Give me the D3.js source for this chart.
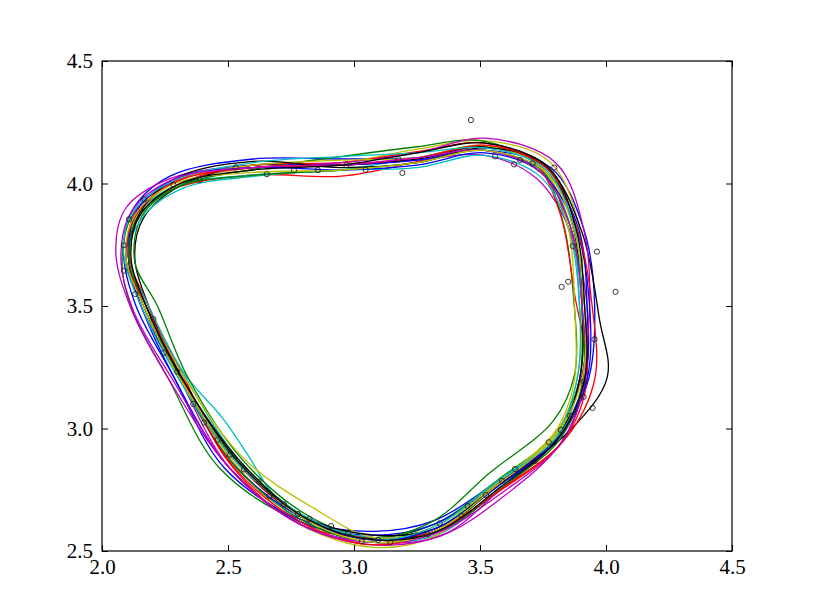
<!DOCTYPE html>
<html>
<head>
<meta charset="utf-8">
<script src="https://cdn.jsdelivr.net/npm/d3@7"></script>
<style>
  body { margin: 0; background: #fff; }
  svg { display: block; }
</style>
</head>
<body>
<div id="chart"></div>
<script>
// tick labels
const xTicks = [2.0, 2.5, 3.0, 3.5, 4.0, 4.5];
const yTicks = [2.5, 3.0, 3.5, 4.0, 4.5];

// observed points (open circles)
const pointX = [2.168, 2.283, 2.388, 2.531, 2.654, 2.762, 2.857, 2.969, 3.046, 3.176, 3.192, 3.464, 3.560, 3.635, 3.659, 3.709, 3.795,
  3.868, 3.964, 3.850, 3.824, 4.038, 3.954, 3.911, 3.911, 3.947, 3.857, 3.821, 3.773, 3.718, 3.639, 3.587, 3.524, 3.451, 3.426,
  3.340, 3.291, 3.238, 3.144, 3.096, 3.031, 2.977, 2.909, 2.823, 2.778, 2.722, 2.664, 2.622, 2.563, 2.508, 2.459, 2.405, 2.362,
  2.299, 2.246, 2.204, 2.132, 2.087, 2.087, 2.107];
const pointY = [3.936, 3.995, 4.014, 4.066, 4.038, 4.054, 4.055, 4.074, 4.056, 4.099, 4.043, 4.259, 4.111, 4.078, 4.096, 4.082, 4.065,
  3.745, 3.722, 3.599, 3.578, 3.558, 3.364, 3.191, 3.129, 3.084, 3.052, 2.994, 2.944, 2.867, 2.835, 2.786, 2.729, 2.684, 2.644,
  2.613, 2.568, 2.569, 2.536, 2.545, 2.540, 2.575, 2.602, 2.631, 2.651, 2.691, 2.724, 2.783, 2.833, 2.893, 2.954, 3.024, 3.100,
  3.232, 3.309, 3.446, 3.549, 3.644, 3.748, 3.854];

// fitted closed curves, control points
const curves = [
  [[2.085,3.72],[2.12,3.89],[2.27,4.03],[2.60,4.10],[2.95,4.10],[3.25,4.105],[3.52,4.135],[3.78,4.065],[3.91,3.82],[3.955,3.50],[3.925,3.18],[3.80,2.95],[3.55,2.77],[3.32,2.625],[3.08,2.58],[2.785,2.63],[2.485,2.84],[2.28,3.22],[2.135,3.50]],
  [[2.08,3.66],[2.12,3.87],[2.29,4.01],[2.60,4.065],[2.95,4.075],[3.25,4.105],[3.52,4.155],[3.762,4.065],[3.87,3.82],[3.905,3.50],[3.895,3.20],[3.80,2.98],[3.57,2.79],[3.32,2.61],[3.08,2.555],[2.785,2.62],[2.465,2.84],[2.26,3.21],[2.125,3.47]],
  [[2.105,3.70],[2.13,3.87],[2.29,3.98],[2.60,4.035],[2.95,4.03],[3.25,4.089],[3.52,4.15],[3.745,4.065],[3.85,3.82],[3.915,3.50],[3.915,3.18],[3.82,2.97],[3.57,2.77],[3.32,2.59],[3.08,2.545],[2.805,2.63],[2.535,2.86],[2.30,3.22],[2.185,3.50]],
  [[2.105,3.70],[2.14,3.87],[2.29,3.99],[2.60,4.035],[2.95,4.055],[3.25,4.105],[3.52,4.135],[3.752,4.045],[3.86,3.82],[3.895,3.50],[3.895,3.20],[3.80,2.96],[3.58,2.76],[3.34,2.57],[3.08,2.535],[2.80,2.60],[2.665,2.75],[2.58,2.89],[2.48,3.04],[2.33,3.22],[2.175,3.50]],
  [[2.055,3.72],[2.095,3.90],[2.27,4.02],[2.60,4.075],[2.95,4.075],[3.25,4.095],[3.52,4.115],[3.725,4.02],[3.86,3.80],[3.925,3.50],[3.915,3.18],[3.82,2.94],[3.59,2.72],[3.34,2.56],[3.08,2.535],[2.785,2.61],[2.505,2.84],[2.26,3.21],[2.115,3.49]],
  [[2.105,3.70],[2.15,3.87],[2.31,4.00],[2.60,4.065],[2.95,4.085],[3.25,4.14],[3.52,4.175],[3.775,4.09],[3.89,3.84],[3.905,3.50],[3.885,3.20],[3.80,2.98],[3.56,2.77],[3.33,2.565],[3.08,2.515],[2.785,2.61],[2.525,2.86],[2.30,3.22],[2.165,3.50]],
  [[2.13,3.70],[2.165,3.86],[2.31,3.99],[2.60,4.075],[2.95,4.075],[3.25,4.10],[3.52,4.15],[3.77,4.06],[3.905,3.80],[3.975,3.44],[4.005,3.21],[3.86,2.995],[3.57,2.765],[3.32,2.58],[3.08,2.55],[2.81,2.63],[2.54,2.86],[2.31,3.22],[2.185,3.50]],
  [[2.095,3.70],[2.14,3.88],[2.30,4.01],[2.60,4.075],[2.95,4.075],[3.25,4.095],[3.52,4.135],[3.762,4.045],[3.89,3.82],[3.925,3.50],[3.915,3.20],[3.81,2.97],[3.56,2.77],[3.32,2.61],[3.08,2.565],[2.785,2.62],[2.505,2.84],[2.28,3.22],[2.155,3.50]],
  [[2.13,3.68],[2.16,3.87],[2.31,3.99],[2.61,4.06],[2.95,4.11],[3.25,4.15],[3.50,4.175],[3.735,4.07],[3.83,3.84],[3.87,3.55],[3.875,3.22],[3.79,3.03],[3.54,2.82],[3.31,2.62],[3.08,2.555],[2.825,2.64],[2.555,2.875],[2.34,3.21],[2.22,3.50]],
  [[2.11,3.70],[2.15,3.87],[2.31,4.00],[2.60,4.075],[2.95,4.085],[3.25,4.13],[3.52,4.165],[3.72,4.08],[3.82,3.87],[3.875,3.55],[3.925,3.20],[3.83,2.95],[3.585,2.75],[3.32,2.58],[3.08,2.555],[2.785,2.61],[2.505,2.86],[2.32,3.22],[2.185,3.50]],
  [[2.105,3.70],[2.155,3.855],[2.32,3.98],[2.61,4.03],[2.95,4.055],[3.25,4.065],[3.52,4.115],[3.742,4.025],[3.85,3.82],[3.895,3.50],[3.885,3.20],[3.80,2.97],[3.57,2.78],[3.32,2.59],[3.08,2.555],[2.805,2.64],[2.545,2.87],[2.32,3.23],[2.175,3.52]],
  [[2.105,3.70],[2.13,3.88],[2.29,4.01],[2.60,4.065],[2.95,4.085],[3.25,4.125],[3.52,4.185],[3.80,4.085],[3.91,3.82],[3.935,3.50],[3.895,3.18],[3.80,2.95],[3.58,2.75],[3.36,2.57],[3.08,2.525],[2.785,2.61],[2.505,2.84],[2.30,3.22],[2.155,3.50]],
  [[2.105,3.70],[2.14,3.87],[2.30,4.01],[2.60,4.075],[2.95,4.095],[3.25,4.105],[3.52,4.155],[3.752,4.055],[3.85,3.82],[3.875,3.50],[3.875,3.20],[3.80,2.99],[3.57,2.78],[3.32,2.60],[3.08,2.555],[2.84,2.675],[2.56,2.88],[2.32,3.22],[2.175,3.50]],
  [[2.105,3.70],[2.15,3.88],[2.29,4.02],[2.60,4.09],[2.95,4.065],[3.25,4.085],[3.52,4.145],[3.762,4.075],[3.87,3.82],[3.905,3.50],[3.895,3.20],[3.80,2.95],[3.56,2.76],[3.32,2.59],[3.08,2.565],[2.805,2.64],[2.545,2.87],[2.30,3.23],[2.165,3.50]],
  [[2.105,3.71],[2.14,3.89],[2.29,4.02],[2.60,4.065],[2.95,4.055],[3.25,4.075],[3.52,4.125],[3.742,4.045],[3.88,3.82],[3.935,3.50],[3.925,3.20],[3.82,2.97],[3.58,2.77],[3.32,2.59],[3.08,2.545],[2.805,2.63],[2.525,2.85],[2.30,3.22],[2.155,3.50]],
  [[2.105,3.70],[2.15,3.87],[2.31,3.99],[2.62,4.035],[2.95,4.055],[3.25,4.085],[3.52,4.135],[3.742,4.045],[3.86,3.82],[3.905,3.50],[3.905,3.18],[3.82,2.96],[3.59,2.76],[3.34,2.58],[3.08,2.535],[2.805,2.62],[2.525,2.85],[2.30,3.22],[2.175,3.50]],
  [[2.095,3.70],[2.14,3.88],[2.30,4.01],[2.60,4.065],[2.95,4.075],[3.25,4.105],[3.54,4.155],[3.772,4.055],[3.89,3.80],[3.945,3.50],[3.955,3.20],[3.84,2.96],[3.58,2.75],[3.32,2.58],[3.08,2.525],[2.805,2.61],[2.525,2.84],[2.31,3.22],[2.175,3.50]],
  [[2.085,3.72],[2.12,3.88],[2.28,4.01],[2.60,4.085],[2.95,4.11],[3.25,4.125],[3.52,4.145],[3.752,4.065],[3.87,3.84],[3.905,3.50],[3.915,3.20],[3.81,2.97],[3.56,2.78],[3.32,2.60],[3.08,2.545],[2.825,2.63],[2.545,2.85],[2.30,3.21],[2.155,3.50]],
  [[2.075,3.70],[2.12,3.89],[2.29,4.02],[2.60,4.065],[2.95,4.075],[3.25,4.105],[3.52,4.135],[3.742,4.045],[3.86,3.82],[3.905,3.50],[3.915,3.20],[3.83,2.95],[3.59,2.74],[3.32,2.57],[3.08,2.535],[2.785,2.61],[2.505,2.84],[2.28,3.20],[2.125,3.48]],
  [[2.095,3.70],[2.13,3.87],[2.29,4.00],[2.60,4.045],[2.95,4.055],[3.25,4.085],[3.52,4.135],[3.762,4.045],[3.87,3.82],[3.915,3.50],[3.905,3.20],[3.80,2.97],[3.57,2.77],[3.32,2.58],[3.08,2.535],[2.805,2.63],[2.545,2.86],[2.30,3.22],[2.165,3.50]],
  [[2.115,3.70],[2.15,3.87],[2.31,4.00],[2.60,4.055],[2.95,4.075],[3.25,4.125],[3.52,4.165],[3.772,4.065],[3.88,3.82],[3.915,3.50],[3.915,3.20],[3.81,2.96],[3.58,2.76],[3.33,2.58],[3.08,2.545],[2.815,2.63],[2.545,2.86],[2.31,3.22],[2.175,3.50]]
];

// matplotlib classic colour cycle b, g, r, c, m, y, k
const cycle = ["#0000ff", "#008000", "#ff0000", "#00bfbf", "#bf00bf", "#bfbf00", "#000000"];

const width = 813;
const height = 613;
const margin = { top: 61, right: 81, bottom: 62, left: 102 };
const w = width - margin.left - margin.right;
const h = height - margin.top - margin.bottom;

const svg = d3.select("#chart")
    .append("svg")
    .attr("width", width)
    .attr("height", height);

const g = svg.append("g")
    .attr("transform", `translate(${margin.left},${margin.top})`);

const x = d3.scaleLinear().domain([2.0, 4.5]).range([0, w]);
const y = d3.scaleLinear().domain([2.5, 4.5]).range([h, 0]);

const plot = g.append("g");

const line = d3.line()
    .x(d => x(d[0]))
    .y(d => y(d[1]))
    .curve(d3.curveCatmullRomClosed.alpha(0.5));

plot.selectAll(".fit")
    .data(curves)
    .enter()
    .append("path")
    .attr("class", "fit")
    .attr("d", line)
    .attr("fill", "none")
    .attr("stroke", (d, i) => cycle[i % cycle.length])
    .attr("stroke-width", 1.3);

plot.selectAll(".pt")
    .data(pointX.map((v, i) => [v, pointY[i]]))
    .enter()
    .append("circle")
    .attr("class", "pt")
    .attr("cx", d => x(d[0]))
    .attr("cy", d => y(d[1]))
    .attr("r", 2.6)
    .attr("fill", "none")
    .attr("stroke", "#222")
    .attr("stroke-width", 0.9);

// axes with inward ticks on all four sides
const fmt = d3.format(".1f");
const tickLen = 6;

const xb = g.append("g")
    .attr("transform", `translate(0,${h})`)
    .call(d3.axisBottom(x).tickValues(xTicks).tickFormat(fmt).tickSizeInner(-tickLen).tickSizeOuter(0).tickPadding(tickLen + 2));
const xt = g.append("g")
    .call(d3.axisTop(x).tickValues(xTicks).tickFormat("").tickSizeInner(-tickLen).tickSizeOuter(0));
const yl = g.append("g")
    .call(d3.axisLeft(y).tickValues(yTicks).tickFormat(fmt).tickSizeInner(-tickLen).tickSizeOuter(0).tickPadding(tickLen + 3));
const yr = g.append("g")
    .attr("transform", `translate(${w},0)`)
    .call(d3.axisRight(y).tickValues(yTicks).tickFormat("").tickSizeInner(-tickLen).tickSizeOuter(0));

[xb, xt, yl, yr].forEach(a => {
    a.select(".domain").remove();
    a.selectAll("line").attr("stroke", "#000").attr("stroke-width", 1);
    a.selectAll("text")
        .attr("fill", "#000")
        .style("font-family", "'Liberation Serif', 'DejaVu Serif', serif")
        .style("font-size", "21px");
});

g.append("rect")
    .attr("x", 0)
    .attr("y", 0)
    .attr("width", w)
    .attr("height", h)
    .attr("fill", "none")
    .attr("stroke", "#000")
    .attr("stroke-width", 1.2);
</script>
</body>
</html>
